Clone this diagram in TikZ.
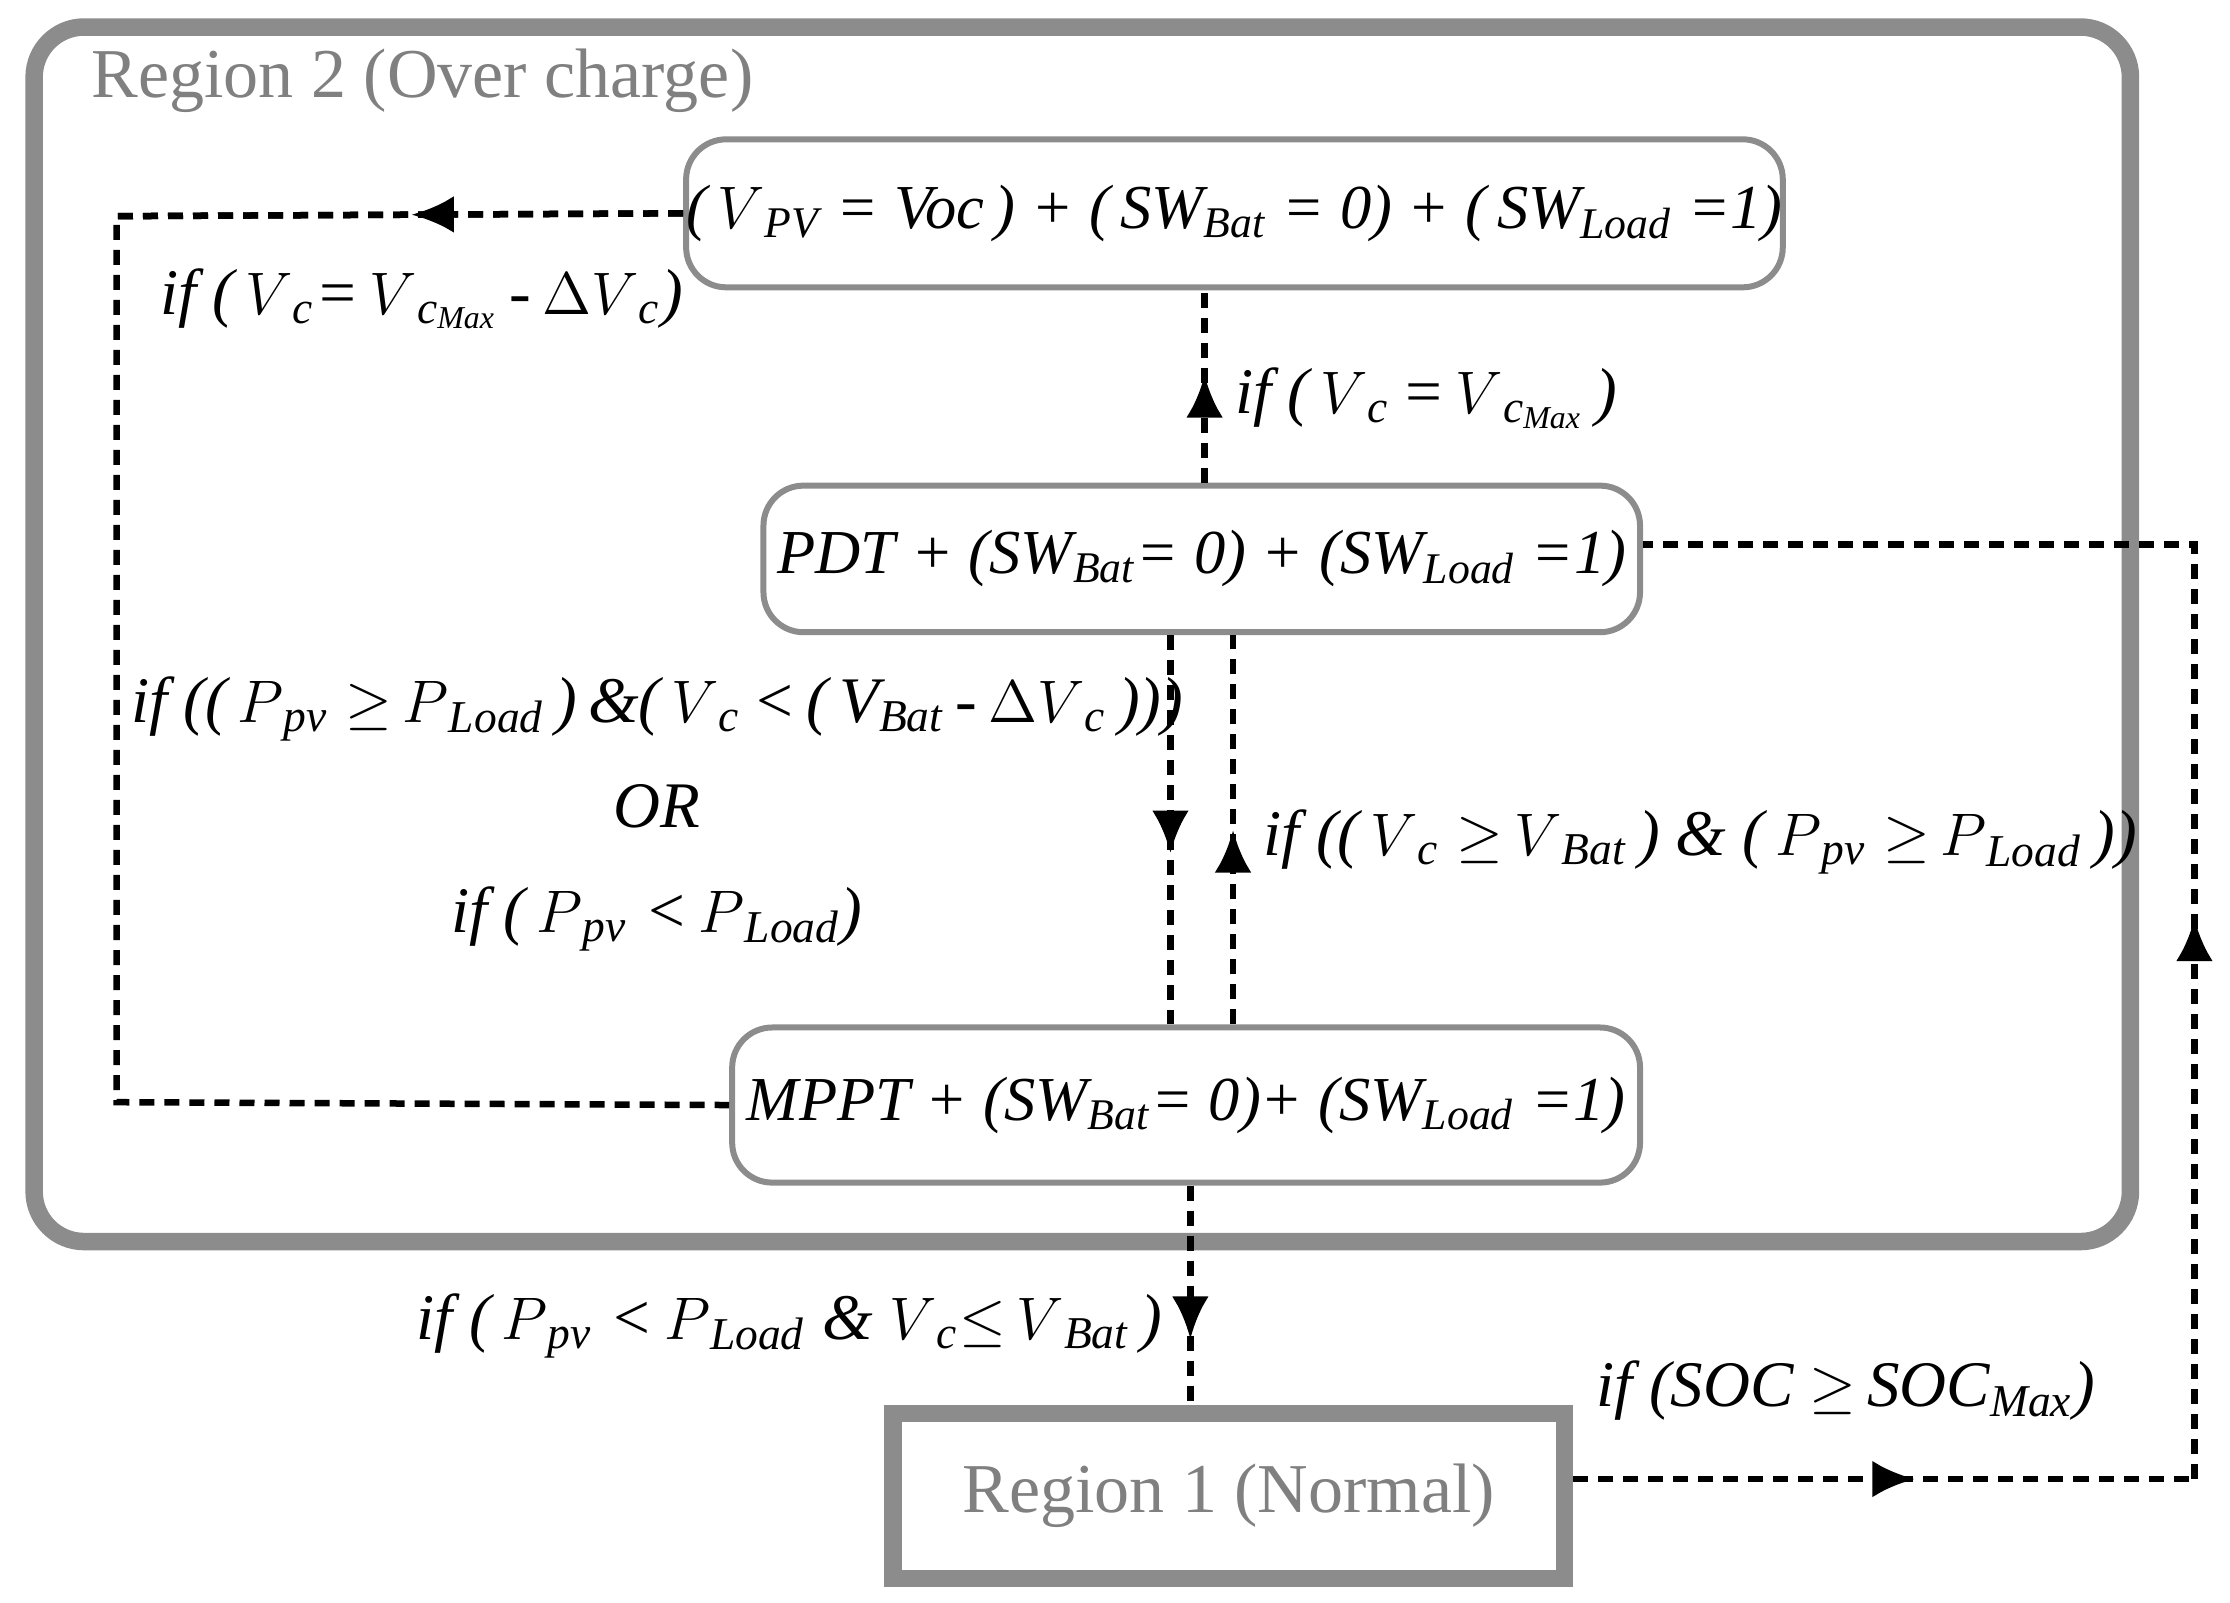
\documentclass[tikz,border=0pt]{standalone}
\usepackage{fontspec}
\setmainfont{Liberation Serif}
\usetikzlibrary{arrows.meta,decorations.markings}
\tikzset{
  state/.style={draw=black!45, line width=1.2pt, rounded corners=8pt, inner sep=0pt,
    font=\fontsize{12.5}{15}\selectfont\itshape},
  region/.style={draw=black!45, line width=3.5pt, inner sep=0pt},
  flow/.style={line width=1.3pt, dash pattern=on 3pt off 2pt},
  tip/.style={postaction={decorate}, decoration={markings,
    mark=at position #1 with {\arrow{Latex[length=0.3cm,width=0.26cm]}}}},
  lbl/.style={font=\fontsize{13}{15}\selectfont\itshape, inner sep=0pt},
  gtxt/.style={font=\fontsize{14}{17}\selectfont, text=black!50}
}
\newcommand{\sbs}[1]{$_{\mathit{#1}}$}
\begin{document}
\begin{tikzpicture}[x=0.01cm, y=-0.01cm]
\useasboundingbox (0,0) rectangle (1568,1127);
% regions
\draw[region, rounded corners=10pt] (24,19) rectangle (1498,873);
\node[gtxt, anchor=west] (r2) at (52,57) {Region 2 (Over charge)};
\node[region, minimum width=4.72cm, minimum height=1.16cm, gtxt] (r1) at (864,1052) {Region 1 (Normal)};
% states
\node[state, minimum width=7.58cm, minimum height=1.04cm] (voc) at (868,150)
  {(\,$V$\sbs{PV} = \textit{Voc}\,) + (\,\textit{SW}\sbs{Bat} = 0) + (\,\textit{SW}\sbs{Load} =1)};
\node[state, minimum width=6.16cm, minimum height=1.03cm] (pdt) at (845,393)
  {\textit{PDT} + (\textit{SW}\sbs{Bat}= 0) + (\textit{SW}\sbs{Load} =1)};
\node[state, minimum width=6.38cm, minimum height=1.09cm] (mppt) at (834,777)
  {\textit{MPPT} + (\textit{SW}\sbs{Bat}= 0)+ (\textit{SW}\sbs{Load} =1)};
% corners
\coordinate (c1) at (82,152);
\coordinate (c2) at (82,775);
\coordinate (c3) at (1543,1040);
\coordinate (c4) at (1543,383);
% connectors
\draw[flow] (voc.west) -- (c1) -- (c2) -- (mppt.west);
\draw[flow, tip=0.48] (voc.west) -- (c1);
\draw[flow, tip=0.56] (pdt.north -| 847,0) -- (voc.south -| 847,0);
\draw[flow, tip=0.56] (pdt.south -| 823,0) -- (mppt.north -| 823,0);
\draw[flow, tip=0.5] (mppt.north -| 867,0) -- (pdt.south -| 867,0);
\draw[flow, tip=0.7] (mppt.south -| 837,0) -- (r1.north -| 837,0);
\draw[flow, tip=0.55] (r1.east |- c3) -- (c3);
\draw[flow] (c3) -- (c4) -- (pdt.east |- c4);
\draw[flow, tip=0.6] (c3) -- (c4);
% labels
\node[lbl, anchor=west] (l1) at (112,210) {if (\,$V$\textsubscript{c}=\,$V$\textsubscript{c\sbs{Max}}\,-\,$\Delta V$\textsubscript{c})};
\node[lbl, anchor=west] (l2) at (868,280) {if (\,$V$\textsubscript{c}\,=\,$V$\textsubscript{c\sbs{Max}}\,)};
\node[lbl, align=center] (l3) at (462,572) {if ((\,$P$\sbs{pv} $\geq$\,$P$\sbs{Load}\,)\,\&(\,$V$\textsubscript{c}\,<\,(\,V\sbs{Bat}\,-\,$\Delta V$\sbs{c}\,)))\\[6pt]OR\\[6pt]if (\,$P$\sbs{pv} <\,$P$\sbs{Load})};
\node[lbl, anchor=west] (l4) at (888,592) {if ((\,$V$\textsubscript{c} $\geq$\,$V$\sbs{Bat}\,) \& (\,$P$\sbs{pv} $\geq$\,$P$\sbs{Load}\,))};
\node[lbl, anchor=east] (l5) at (818,932) {if (\,$P$\textsubscript{pv} <\,$P$\sbs{Load} \& $V$\sbs{c}$\leq$\,$V$\sbs{Bat}\,)};
\node[lbl, anchor=west] (l6) at (1122,978) {if (\textit{SOC} $\geq$\,\textit{SOC}\sbs{Max})};
\end{tikzpicture}
\end{document}
